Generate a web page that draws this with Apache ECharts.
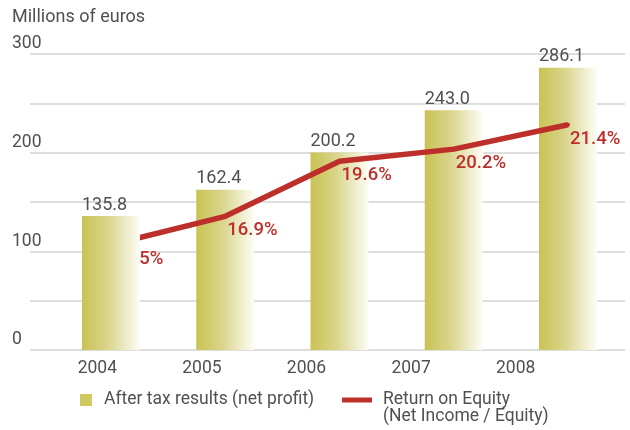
<!DOCTYPE html>
<html><head><meta charset="utf-8">
<script src="https://cdn.jsdelivr.net/npm/echarts@6/dist/echarts.min.js"></script>
<style>html,body{margin:0;padding:0;background:#fff}#c{width:630px;height:430px}</style>
</head><body><div id="c"></div>
<script>
const years = ['2004', '2005', '2006', '2007', '2008'];
const netProfit = [135.8, 162.4, 200.2, 243.0, 286.1];
const roe = [15.5, 16.9, 19.6, 20.2, 21.4];
const profitTickLabels = ['0', '100', '200', '300'];
const unitLabel = 'Millions of euros';
const barName = 'After tax results (net profit)';
const lineName = 'Return on Equity\n(Net Income / Equity)';

const FONT = 'Roboto';
const GRAY = '#505052';
const RED = '#bd2f2a';
const OLIVE = '#cfc960';
const barGrad = new echarts.graphic.LinearGradient(0, 0, 1, 0, [
  {offset: 0, color: '#c9c253'},
  {offset: 0.45, color: '#dad58b'},
  {offset: 1, color: '#fdfdf6'}
]);

const barData = netProfit.map((v, i) => [i, v]);
const lineData = roe.map((v, i) => [i, v]);
const overlayData = [[0, netProfit[0]]];

const chart = echarts.init(document.getElementById('c'), null, {renderer: 'canvas'});
chart.setOption({
  animation: false,
  title: {
    text: unitLabel, left: 12, top: 8, padding: 0,
    textStyle: {fontFamily: FONT, fontSize: 18, fontWeight: 'normal', color: GRAY}
  },
  legend: [
    {
      data: [barName], left: 80, top: 391, padding: 0,
      itemWidth: 12, itemHeight: 12, icon: 'rect',
      itemStyle: {color: OLIVE},
      textStyle: {fontFamily: FONT, fontSize: 17.5, color: GRAY, lineHeight: 17, padding: [0, 0, 0, 7]}
    },
    {
      data: [lineName], left: 342, top: 391, padding: 0,
      itemWidth: 30, itemHeight: 22,
      icon: 'path://M0,0L30,0L30,5L0,5Z M0,22',
      itemStyle: {color: RED},
      textStyle: {fontFamily: FONT, fontSize: 17.5, color: GRAY, lineHeight: 17, padding: [0, 0, 0, 6]}
    }
  ],
  grid: [
    {left: 30, right: 5, top: 54, bottom: 80, containLabel: false},
    {left: 45, width: 523, top: 340, height: 10, containLabel: false}
  ],
  xAxis: [
    {type: 'value', gridIndex: 0, min: -0.709, max: 4.499, show: false},
    {
      type: 'category', gridIndex: 1, data: years,
      axisLine: {show: false}, axisTick: {show: false}, splitLine: {show: false},
      axisLabel: {fontFamily: FONT, fontSize: 17.5, color: GRAY, margin: 10}
    }
  ],
  yAxis: [
    {
      type: 'value', gridIndex: 0, min: 0, max: 300, interval: 50,
      axisLine: {show: false}, axisTick: {show: false},
      splitLine: {lineStyle: {color: '#d3d3d3', width: 1.5}},
      axisLabel: {
        fontFamily: FONT, fontSize: 17.5, color: GRAY, margin: 18,
        align: 'left', verticalAlign: 'bottom', padding: [0, 0, 1, 0],
        formatter: v => (v % 100 === 0 ? profitTickLabels[v / 100] : '')
      }
    },
    {type: 'value', gridIndex: 0, min: 10.33, max: 24.875, show: false, splitLine: {show: false}},
    {type: 'value', gridIndex: 1, show: false}
  ],
  series: [
    {
      name: barName, type: 'bar', xAxisIndex: 0, yAxisIndex: 0,
      data: barData, barWidth: 58, barGap: '-100%', z: 2,
      itemStyle: {color: barGrad},
      label: {
        show: true, position: [0, -2], align: 'left', verticalAlign: 'bottom',
        fontFamily: FONT, fontSize: 18, color: GRAY,
        formatter: p => p.value[1].toFixed(1)
      }
    },
    {
      name: lineName, type: 'line', xAxisIndex: 0, yAxisIndex: 1,
      data: lineData, z: 3,
      symbol: 'circle', symbolSize: 4,
      lineStyle: {color: RED, width: 5.5},
      itemStyle: {color: RED},
      label: {
        show: true, position: 'bottom', align: 'left', distance: 3, offset: [2, 0],
        fontFamily: FONT, fontSize: 18.5, fontWeight: 500, color: RED,
        formatter: p => p.value[1].toFixed(1) + '%'
      }
    },
    {
      name: 'overlay', type: 'bar', xAxisIndex: 0, yAxisIndex: 0,
      data: overlayData, barWidth: 58, barGap: '-100%', z: 4,
      itemStyle: {color: barGrad}
    }
  ]
});
</script></body></html>
